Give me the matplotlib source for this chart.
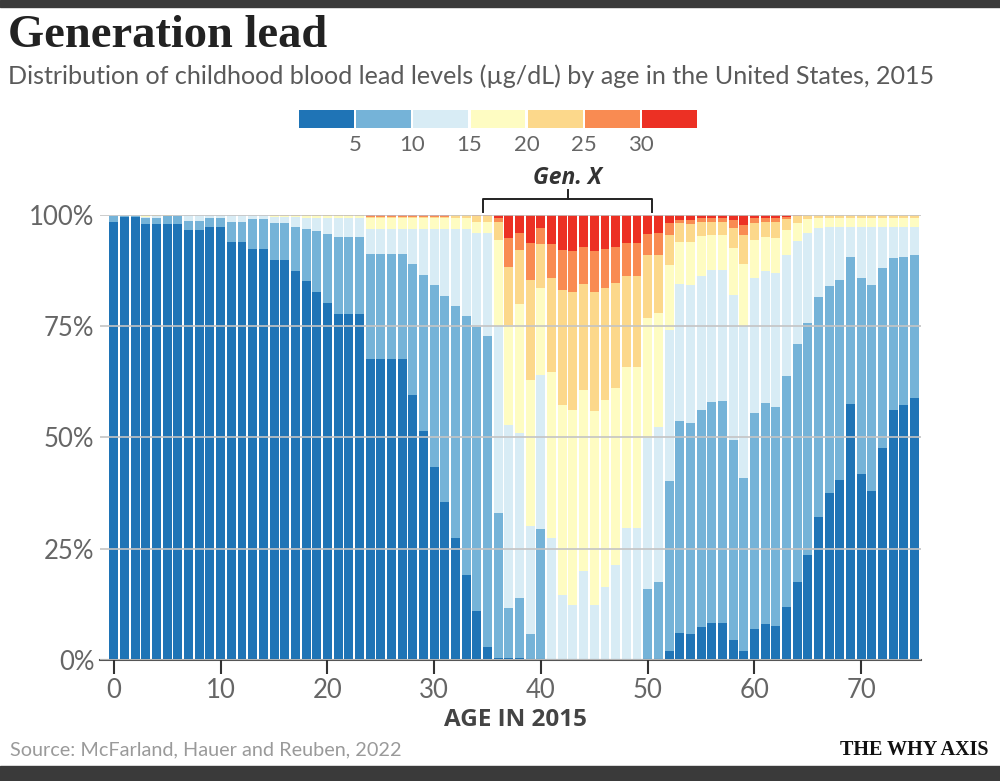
import matplotlib
matplotlib.use("Agg")
import matplotlib.pyplot as plt
from matplotlib.patches import Rectangle
import numpy as np

# ages 0..75, cumulative share (%) of children below each blood lead level
ages = list(range(76))

lt5 = [98.4, 99.6, 99.6, 97.9, 98.0, 98.0, 98.0, 96.6, 96.6, 97.2,
       97.2, 93.9, 93.9, 92.4, 92.4, 89.9, 89.9, 87.5, 85.2, 82.6,
       80.3, 77.8, 77.8, 77.8, 67.6, 67.6, 67.6, 67.6, 59.6, 51.5,
       43.4, 35.4, 27.3, 19.2, 11.1, 3.0, 0.5, 0.4, 0.5, 0.0,
       0.0, 0.0, 0.0, 0.0, 0.0, 0.0, 0.0, 0.0, 0.0, 0.0,
       0.0, 0.0, 1.9, 6.1, 5.8, 7.3, 8.2, 8.4, 4.5, 1.9,
       6.9, 8.0, 7.6, 11.8, 17.6, 23.6, 32.1, 37.6, 40.4, 57.5,
       41.8, 38.0, 47.7, 56.2, 57.3, 58.8]

lt10 = [99.8, 99.8, 99.8, 99.3, 99.4, 99.7, 99.7, 98.7, 98.7, 99.4,
        99.4, 98.5, 98.5, 99.1, 99.1, 98.1, 98.1, 97.4, 96.9, 96.3,
        95.7, 95.0, 95.0, 95.0, 91.2, 91.2, 91.2, 91.2, 88.9, 86.6,
        84.3, 81.9, 79.6, 77.3, 74.9, 72.7, 33.0, 11.6, 14.0, 5.8,
        29.4, 0.0, 0.0, 0.0, 0.0, 0.0, 0.0, 0.0, 0.0, 0.0,
        16.0, 17.6, 40.2, 53.7, 53.2, 56.2, 57.9, 58.2, 49.4, 40.8,
        55.6, 57.8, 56.9, 63.8, 71.0, 75.8, 81.5, 84.1, 85.4, 90.6,
        85.9, 84.3, 88.0, 90.3, 90.6, 90.9]

lt15 = [100, 100, 100, 99.6, 99.8, 100, 100, 99.9, 99.9, 99.9,
        99.9, 99.9, 99.9, 99.9, 99.9, 99.6, 99.6, 99.6, 99.4, 99.4,
        99.4, 99.4, 99.4, 99.4, 96.8, 96.8, 96.8, 96.8, 96.8, 96.8,
        96.8, 96.8, 96.8, 96.8, 96.0, 96.0, 75.1, 52.8, 50.9, 30.0,
        64.0, 27.5, 14.5, 12.4, 20.0, 12.4, 16.3, 21.3, 29.6, 29.6,
        49.8, 52.3, 74.2, 84.6, 84.3, 86.4, 87.6, 87.6, 82.0, 75.1,
        85.8, 87.4, 86.9, 91.0, 94.2, 96.0, 97.0, 97.4, 97.4, 97.4,
        97.4, 97.4, 97.4, 97.4, 97.4, 97.4]

lt20 = [100, 100, 100, 99.8, 99.8, 99.8, 100, 100, 100, 100,
        100, 100, 100, 100, 100, 99.8, 99.8, 99.8, 99.7, 99.7,
        99.7, 99.7, 99.7, 99.7, 99.3, 99.3, 99.3, 99.3, 99.3, 99.3,
        99.3, 99.3, 99.3, 99.3, 98.5, 98.5, 94.4, 75.3, 79.9, 62.9,
        83.7, 64.8, 57.3, 56.2, 60.7, 55.9, 58.4, 61.2, 65.8, 65.8,
        76.8, 77.9, 88.8, 94.0, 94.0, 95.3, 95.5, 95.5, 92.5, 89.0,
        94.4, 95.1, 94.9, 96.6, 98.1, 99.1, 99.3, 99.4, 99.4, 99.4,
        99.4, 99.4, 99.4, 99.4, 99.4, 99.4]

lt25 = [100, 100, 100, 100, 100, 100, 100, 100, 100, 100,
        100, 100, 100, 100, 100, 100, 100, 100, 99.9, 99.9,
        99.9, 99.9, 99.9, 99.9, 99.6, 99.6, 99.6, 99.6, 99.6, 99.6,
        99.6, 99.6, 100, 100, 99.8, 99.8, 98.4, 88.4, 92.1, 85.4,
        93.4, 85.9, 83.1, 82.8, 84.5, 82.6, 83.7, 84.7, 86.4, 86.4,
        90.9, 91.0, 95.5, 98.1, 98.0, 98.5, 98.5, 98.5, 97.0, 95.5,
        98.1, 98.5, 98.5, 99.2, 99.8, 100, 100, 100, 100, 100,
        100, 100, 100, 100, 100, 100]

lt30 = [100, 100, 100, 100, 100, 100, 100, 100, 100, 100,
        100, 100, 100, 100, 100, 100, 100, 100, 100, 100,
        100, 100, 100, 100, 99.8, 99.8, 99.8, 99.8, 99.8, 99.8,
        99.8, 99.8, 100, 100, 100, 100, 99.4, 94.9, 95.9, 93.6,
        97.0, 93.4, 92.1, 91.8, 92.7, 91.9, 92.4, 92.9, 93.6, 93.6,
        95.7, 95.9, 98.1, 98.9, 98.9, 99.3, 99.3, 99.3, 98.9, 97.8,
        99.3, 99.4, 99.4, 99.6, 99.9, 100, 100, 100, 100, 100,
        100, 100, 100, 100, 100, 100]

legend_labels = ["5", "10", "15", "20", "25", "30"]
colors = ["#1f74b6", "#75b3d8", "#d8ecf5", "#fefcc2",
          "#fcd88b", "#f98b52", "#ec3024"]

gen_x = (34.6, 50.4)
x_ticks = [0, 10, 20, 30, 40, 50, 60, 70]
y_ticks = [0, 25, 50, 75, 100]

light = "Lato"
grey = "#666666"

fig = plt.figure(figsize=(10, 7.81), dpi=100)
ax = fig.add_axes([0.100, 0.155, 0.821, 0.5697])

cum = np.array([np.zeros(76), lt5, lt10, lt15, lt20, lt25, lt30, np.full(76, 100.0)])
for k in range(7):
    ax.bar(ages, cum[k + 1] - cum[k], bottom=cum[k], width=0.84,
           color=colors[k], edgecolor="none", zorder=1)

ax.set_xlim(-1.3, 75.6)
ax.set_ylim(0, 100)
ax.set_yticks(y_ticks)
ax.set_yticklabels([f"{v}%" for v in y_ticks], fontsize=18.5, color=grey,
                   fontfamily=light)
ax.set_xticks(x_ticks)
ax.set_xticklabels([str(v) for v in x_ticks], fontsize=18.5, color=grey,
                   fontfamily=light)
ax.tick_params(axis="y", length=0, pad=4)
ax.tick_params(axis="x", length=10, width=1.5, color="#333333", pad=3)
ax.yaxis.grid(True, color="#c4c4c4", lw=1.2, zorder=2)
ax.set_axisbelow(False)
for s in ["top", "right", "left"]:
    ax.spines[s].set_visible(False)
ax.spines["bottom"].set_color("#555555")
ax.spines["bottom"].set_linewidth(1.5)

# Gen. X bracket
y0, y1, y2 = 100.7, 103.6, 105.6
ax.plot([gen_x[0], gen_x[0], gen_x[1], gen_x[1]], [y0, y1, y1, y0],
        color="#222222", lw=1.4, clip_on=False)
mid = (gen_x[0] + gen_x[1]) / 2
ax.plot([mid, mid], [y1, y2], color="#222222", lw=1.4, clip_on=False)
ax.text(mid, 108.4, "Gen. X", ha="center", va="center", fontsize=16.5,
        fontweight="bold", fontstyle="italic", color="#333333",
        fontfamily="Open Sans", clip_on=False)

# legend strip
lax = fig.add_axes([0.298, 1 - 128 / 781, 0.400, 18 / 781])
lax.bar(range(7), [1] * 7, width=0.96, color=colors)
lax.set_xlim(-0.5, 6.5)
lax.set_ylim(0, 1)
lax.axis("off")
for i, lab in enumerate(legend_labels):
    lax.text(i + 0.5, -0.95, lab, ha="center", va="center", fontsize=16,
             color=grey, fontfamily=light,
             transform=lax.transData, clip_on=False)

# texts
fig.text(0.008, 1 - 47 / 781, "Generation lead", fontsize=33.5, fontweight="bold",
         fontfamily="Liberation Serif", color="#222222", va="baseline")
fig.text(0.008, 1 - 84 / 781,
         "Distribution of childhood blood lead levels (µg/dL) by age in the United States, 2015",
         fontsize=18.1, color="#5a5a5a", fontfamily=light, va="baseline")
fig.text(0.515, 1 - 720 / 781, "AGE IN 2015", fontsize=17.5, fontweight="bold",
         color="#444444", fontfamily="Open Sans", ha="center", va="center")
fig.text(0.010, 1 - 755 / 781, "Source: McFarland, Hauer and Reuben, 2022",
         fontsize=14.3, color="#9a9a9a", fontfamily=light, va="baseline")
fig.text(0.988, 1 - 755 / 781, "THE WHY AXIS", fontsize=14.5, fontweight="bold",
         fontfamily="Liberation Serif", color="#111111", ha="right", va="baseline")

# dark frame strips
fig.patches.append(Rectangle((0, 1 - 7 / 781), 1, 7 / 781, transform=fig.transFigure,
                             color="#3a3a3a", zorder=0))
fig.patches.append(Rectangle((0, 0), 1, 15 / 781, transform=fig.transFigure,
                             color="#3a3a3a", zorder=0))

fig.savefig("out.png", dpi=100, facecolor="white")
